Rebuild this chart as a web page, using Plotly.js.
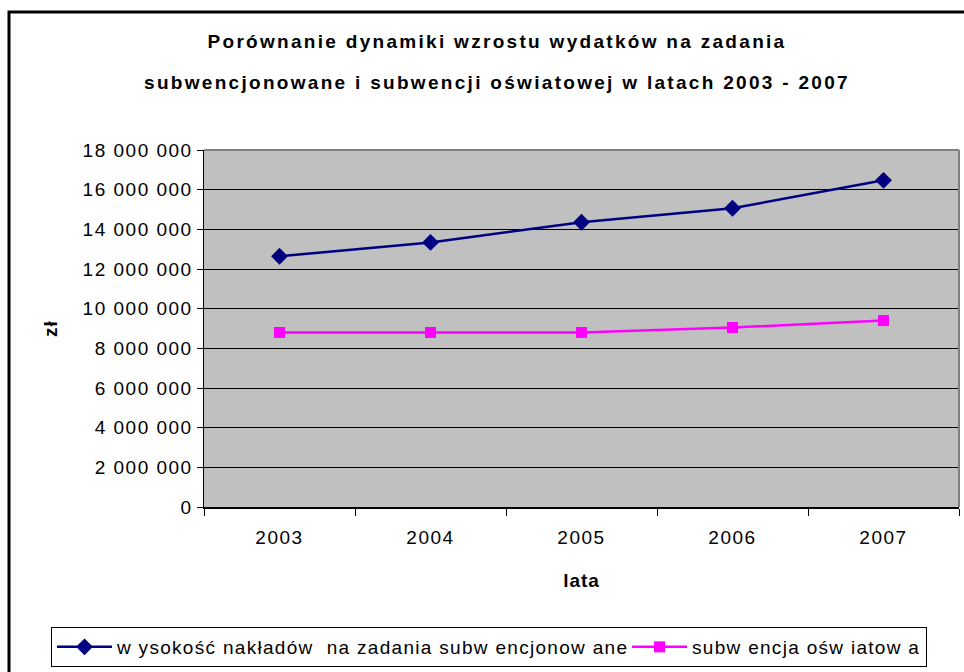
<!DOCTYPE html>
<html>
<head>
<meta charset="utf-8">
<script src="https://cdn.plot.ly/plotly-3.0.1.min.js"></script>
<style>
html,body{margin:0;padding:0;background:#fff;overflow:hidden;}
#chart{width:964px;height:672px;}
text[class*="gtitle"]{letter-spacing:2.3px;}
.xtick text,.ytick text{letter-spacing:1.5px;}
.legendtext{letter-spacing:1.3px;}
.xtitle,.ytitle{letter-spacing:1px;}
</style>
</head>
<body>
<div id="chart"></div>
<script>
const years = ["2003", "2004", "2005", "2006", "2007"];
const naklady = [12640000, 13340000, 14360000, 15060000, 16470000];
const subwencja = [8800000, 8800000, 8800000, 9050000, 9400000];
const seriesNames = ["w ysokość nakładów  na zadania subw encjonow ane", "subw encja ośw iatow a"];
const yTicks = [0, 2000000, 4000000, 6000000, 8000000, 10000000, 12000000, 14000000, 16000000, 18000000];
const titleLines = ["Porównanie dynamiki wzrostu wydatków na zadania", "subwencjonowane i subwencji oświatowej w latach 2003 - 2007"];

const FONT = "Liberation Sans, Arial, sans-serif";

const traces = [
  {
    x: years, y: naklady, type: "scatter", mode: "lines+markers",
    name: seriesNames[0],
    legendwidth: 505,
    line: {color: "#000080", width: 2.5},
    marker: {symbol: "diamond", color: "#000080", size: 13}
  },
  {
    x: years, y: subwencja, type: "scatter", mode: "lines+markers",
    name: seriesNames[1],
    line: {color: "#FF00FF", width: 2.5},
    marker: {symbol: "square", color: "#FF00FF", size: 11}
  }
];

const L = 204, R = 959, T = 150, B = 507;
const px = v => (v - L) / (R - L);
const py = v => (B - v) / (B - T);

const layout = {
  width: 964, height: 672,
  margin: {l: L, r: 964 - R, t: T, b: 672 - B, pad: 0},
  paper_bgcolor: "#ffffff",
  plot_bgcolor: "#C0C0C0",
  separators: ", ",
  font: {family: FONT, size: 19, color: "#000"},
  title: {
    text: titleLines[0],
    font: {family: FONT, size: 19, color: "#000", weight: "bold"},
    x: 497 / 964, xanchor: "center", xref: "container",
    y: 1 - 41 / 672, yanchor: "middle", yref: "container",
    subtitle: {
      text: titleLines[1],
      font: {family: FONT, size: 19, color: "#000", weight: "bold"}
    }
  },
  xaxis: {
    type: "category",
    range: [-0.5, 4.5],
    tickson: "boundaries",
    ticks: "outside", ticklen: 7, tickcolor: "#000", tickwidth: 1,
    ticklabelstandoff: 13,
    showline: true, linecolor: "#000", linewidth: 1.5,
    showgrid: false, zeroline: false,
    tickfont: {family: FONT, size: 19, color: "#000"},
    title: {text: "lata", font: {family: FONT, size: 19, color: "#000", weight: "bold"}, standoff: 26},
    fixedrange: true
  },
  yaxis: {
    range: [0, 18000000],
    tickvals: yTicks,
    tickformat: ",d",
    ticks: "outside", ticklen: 6, tickcolor: "#000", tickwidth: 1,
    showline: true, linecolor: "#000", linewidth: 1.5,
    showgrid: true, gridcolor: "#000", gridwidth: 1,
    zeroline: false,
    tickfont: {family: FONT, size: 19, color: "#000"},
    title: {text: "zł", font: {family: FONT, size: 19, color: "#000", weight: "bold"}, standoff: 20},
    fixedrange: true
  },
  showlegend: true,
  legend: {
    orientation: "h",
    x: px(51), xanchor: "left",
    y: py(627), yanchor: "top",
    bordercolor: "#000", borderwidth: 1,
    bgcolor: "#fff",
    font: {family: FONT, size: 19, color: "#000"},
    itemwidth: 55,
    tracegroupgap: 0
  },
  shapes: [
    {type: "rect", xref: "paper", yref: "paper", x0: px(9), x1: px(1010), y0: py(720), y1: py(12),
     line: {color: "#000", width: 3}, fillcolor: "rgba(0,0,0,0)", layer: "above"},
    {type: "line", xref: "paper", yref: "paper", x0: 0, x1: 1, y0: 1, y1: 1,
     line: {color: "#808080", width: 2}},
    {type: "line", xref: "paper", yref: "paper", x0: 1, x1: 1, y0: 0, y1: 1,
     line: {color: "#808080", width: 2}}
  ]
};

Plotly.newPlot("chart", traces, layout, {displayModeBar: false, staticPlot: true});
</script>
</body>
</html>
